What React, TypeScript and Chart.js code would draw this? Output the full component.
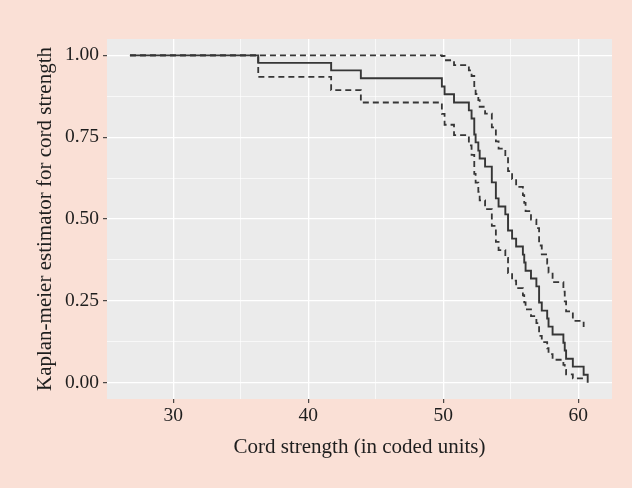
import React, { useEffect, useRef } from "react";
import { Chart, registerables } from "chart.js";

Chart.register(...registerables);

// Kaplan-Meier estimate and pointwise confidence limits
const times = [26.8, 36.3, 41.7, 43.9, 49.9, 50.1, 50.8, 51.9, 52.1, 52.3, 52.4, 52.6, 52.7, 53.1, 53.6, 53.9, 54.1, 54.6, 54.8, 55.1, 55.4, 55.9, 56.0, 56.1, 56.5, 56.9, 57.1, 57.3, 57.7, 57.8, 58.1, 58.9, 59.0, 59.1, 59.6, 60.4, 60.7];
const survival = [1, 0.977, 0.954, 0.930, 0.905, 0.881, 0.856, 0.832, 0.807, 0.758, 0.734, 0.709, 0.685, 0.660, 0.612, 0.563, 0.538, 0.514, 0.465, 0.440, 0.416, 0.391, 0.367, 0.342, 0.318, 0.294, 0.245, 0.220, 0.196, 0.171, 0.147, 0.122, 0.098, 0.073, 0.049, 0.024, 0];
const upper = [1, 1, 1, 1, 0.998, 0.985, 0.970, 0.954, 0.937, 0.901, 0.882, 0.863, 0.843, 0.822, 0.780, 0.737, 0.715, 0.692, 0.646, 0.622, 0.598, 0.573, 0.549, 0.524, 0.498, 0.472, 0.419, 0.392, 0.364, 0.336, 0.307, 0.278, 0.248, 0.218, 0.189, 0.170, null];
const lower = [1, 0.934, 0.894, 0.856, 0.821, 0.788, 0.756, 0.725, 0.696, 0.638, 0.611, 0.583, 0.557, 0.530, 0.479, 0.430, 0.405, 0.381, 0.335, 0.312, 0.289, 0.267, 0.245, 0.224, 0.203, 0.182, 0.143, 0.124, 0.105, 0.087, 0.070, 0.054, 0.039, 0.025, 0.013, 0.004, null];

const xMajorTicks = [30, 40, 50, 60];
const xAllTicks = [30, 35, 40, 45, 50, 55, 60];
const yMajorTicks = [0, 0.25, 0.5, 0.75, 1];
const yAllTicks = [0, 0.125, 0.25, 0.375, 0.5, 0.625, 0.75, 0.875, 1];

const xTitle = "Cord strength (in coded units)";
const yTitle = "Kaplan-meier estimator for cord strength";

const PINK = "#fae0d6";
const PANEL = "#ebebeb";
const LINE = "#363636";
const TEXT = "#1e1e1e";
const SERIF = "'Liberation Serif', 'Times New Roman', serif";

const panelBg = {
  id: "panelBg",
  beforeDraw(chart: any) {
    const { ctx, chartArea } = chart;
    ctx.save();
    ctx.fillStyle = PANEL;
    ctx.fillRect(chartArea.left, chartArea.top, chartArea.right - chartArea.left, chartArea.bottom - chartArea.top);
    ctx.restore();
  },
};

const isMajor = (list: number[], v: number) => list.some((m) => Math.abs(m - v) < 1e-9);

export default function App() {
  const ref = useRef<HTMLCanvasElement | null>(null);

  useEffect(() => {
    if (!ref.current) return;
    const pts = (ys: (number | null)[]) => times.map((t, i) => ({ x: t, y: ys[i] }));
    const lineBase = {
      stepped: true as const,
      borderColor: LINE,
      borderWidth: 1.8,
      pointRadius: 0,
      fill: false,
      spanGaps: false,
    };
    const chart = new Chart(ref.current, {
      type: "line",
      data: {
        datasets: [
          { ...lineBase, label: "upper", data: pts(upper), borderDash: [6, 4] },
          { ...lineBase, label: "lower", data: pts(lower), borderDash: [6, 4] },
          { ...lineBase, label: "survival", data: pts(survival), borderWidth: 1.9 },
        ],
      },
      options: {
        animation: false,
        responsive: false,
        devicePixelRatio: 1,
        layout: { padding: { left: 0, right: 20, top: 39, bottom: 0 } },
        plugins: { legend: { display: false }, tooltip: { enabled: false } },
        scales: {
          x: {
            type: "linear",
            min: 25.1,
            max: 62.5,
            afterBuildTicks: (s: any) => {
              s.ticks = xAllTicks.map((v) => ({ value: v }));
            },
            afterFit: (s: any) => {
              s.height = 89;
            },
            border: { display: false },
            grid: {
              color: "#ffffff",
              lineWidth: (c: any) => (c.tick && isMajor(xMajorTicks, c.tick.value) ? 1.3 : 0.65),
              tickColor: (c: any) => (c.tick && isMajor(xMajorTicks, c.tick.value) ? LINE : "rgba(0,0,0,0)"),
              tickWidth: 1.1,
              tickLength: 4,
            },
            ticks: {
              autoSkip: false,
              maxRotation: 0,
              padding: 1.3,
              color: TEXT,
              font: { family: SERIF, size: 19.5 },
              callback: (v: any) => (isMajor(xMajorTicks, Number(v)) ? String(v) : ""),
            },
            title: {
              display: true,
              text: xTitle,
              color: TEXT,
              font: { family: SERIF, size: 21 },
              padding: { top: 0, bottom: 28.4 },
            },
          },
          y: {
            type: "linear",
            min: -0.05,
            max: 1.05,
            afterBuildTicks: (s: any) => {
              s.ticks = yAllTicks.map((v) => ({ value: v }));
            },
            afterFit: (s: any) => {
              s.width = 107;
            },
            border: { display: false },
            grid: {
              color: "#ffffff",
              lineWidth: (c: any) => (c.tick && isMajor(yMajorTicks, c.tick.value) ? 1.3 : 0.65),
              tickColor: (c: any) => (c.tick && isMajor(yMajorTicks, c.tick.value) ? LINE : "rgba(0,0,0,0)"),
              tickWidth: 1.1,
              tickLength: 4,
            },
            ticks: {
              autoSkip: false,
              padding: 4,
              color: TEXT,
              font: { family: SERIF, size: 19.5 },
              callback: (v: any) => (isMajor(yMajorTicks, Number(v)) ? Number(v).toFixed(2) : ""),
            },
            title: {
              display: true,
              text: yTitle,
              color: TEXT,
              font: { family: SERIF, size: 21 },
              padding: { top: 32.4, bottom: 0 },
            },
          },
        },
      },
      plugins: [panelBg],
    } as any);
    return () => chart.destroy();
  }, []);

  return (
    <div style={{ position: "fixed", left: 0, top: 0, width: 632, height: 488, background: PINK }}>
      <canvas ref={ref} width={632} height={488} style={{ display: "block", width: 632, height: 488 }} />
    </div>
  );
}
